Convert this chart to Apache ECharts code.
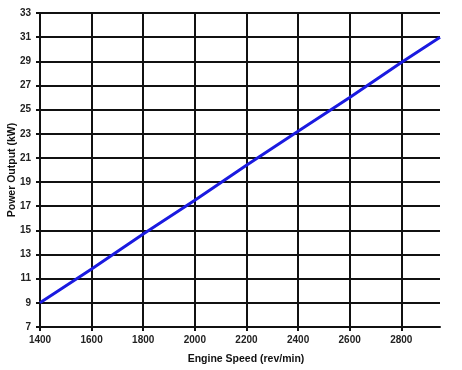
<!DOCTYPE html>
<html><head><meta charset="utf-8">
<script src="https://cdn.jsdelivr.net/npm/echarts@6/dist/echarts.min.js"></script>
<style>html,body{margin:0;padding:0;background:#fff}#c{width:462px;height:370px}</style>
</head><body><div id="c"></div>
<script>
var speeds = [1400, 1600, 1800, 2000, 2200, 2400, 2600, 2800, 2950];
var power  = [9.0, 11.8, 14.7, 17.5, 20.4, 23.2, 26.0, 28.9, 31.0];
var xTicks = [1400, 1600, 1800, 2000, 2200, 2400, 2600, 2800];
var yTicks = [7, 9, 11, 13, 15, 17, 19, 21, 23, 25, 27, 29, 31, 33];

var chart = echarts.init(document.getElementById('c'), null, {renderer: 'canvas'});
var lbl = {fontFamily: 'Liberation Sans', fontSize: 10, fontWeight: 'bold', color: '#222',
  formatter: function (v) { return String(v); }};
chart.setOption({
  animation: false,
  grid: {left: 40, right: 22, top: 13, bottom: 43, containLabel: false, outerBoundsMode: 'none'},
  xAxis: {
    type: 'value', min: 1400, max: 2950,
    name: 'Engine Speed (rev/min)', nameLocation: 'middle', nameGap: 27, nameMoveOverlap: false,
    nameTextStyle: {fontFamily: 'Liberation Sans', fontSize: 10.5, fontWeight: 'bold', color: '#111', padding: [0, 0, 0, 12]},
    axisLine: {show: true, lineStyle: {color: '#111', width: 2}},
    axisTick: {show: true, length: 4, lineStyle: {color: '#111', width: 2}, customValues: xTicks},
    axisLabel: Object.assign({margin: 8, customValues: xTicks}, lbl),
    splitLine: {show: true, lineStyle: {color: '#111', width: 2}}
  },
  yAxis: {
    type: 'value', min: 7, max: 33,
    name: 'Power Output (kW)', nameLocation: 'middle', nameGap: 22, nameMoveOverlap: false,
    nameTextStyle: {fontFamily: 'Liberation Sans', fontSize: 10.5, fontWeight: 'bold', color: '#111'},
    axisLine: {show: true, lineStyle: {color: '#111', width: 2}},
    axisTick: {show: true, length: 4, lineStyle: {color: '#111', width: 2}, customValues: yTicks},
    axisLabel: Object.assign({margin: 9, customValues: yTicks}, lbl),
    splitLine: {show: true, lineStyle: {color: '#111', width: 2}}
  },
  series: [{
    type: 'line',
    data: speeds.map(function (s, i) { return [s, power[i]]; }),
    showSymbol: false,
    lineStyle: {color: '#1a1ae0', width: 3},
    itemStyle: {color: '#1a1ae0'}
  }]
});
</script></body></html>
